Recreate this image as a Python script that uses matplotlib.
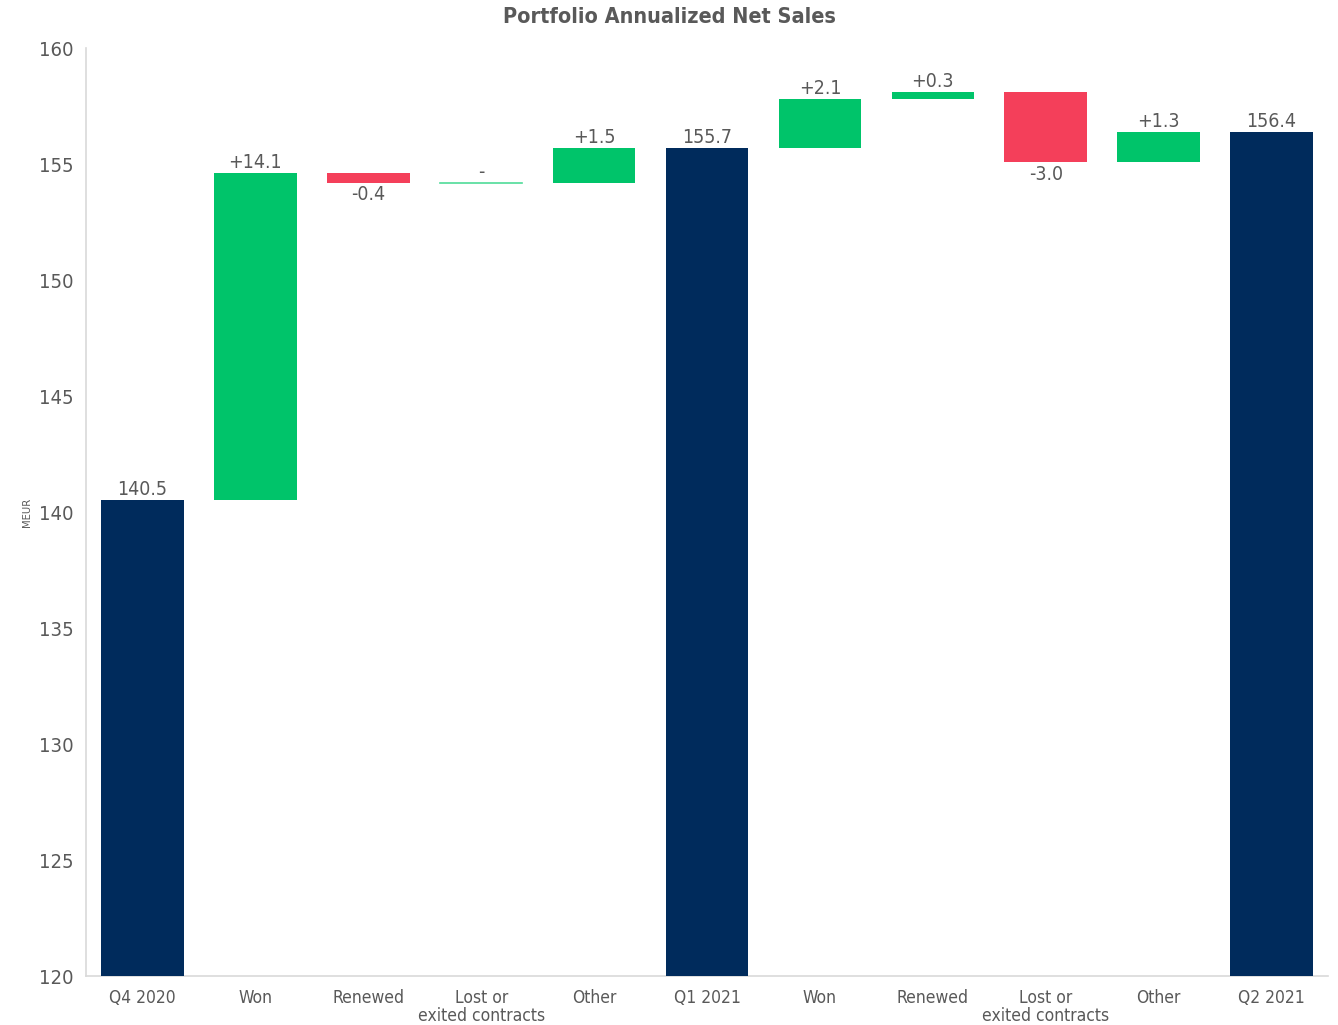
import numpy as np
import matplotlib
matplotlib.use("Agg")
import matplotlib.pyplot as plt

# data
categories = ["Q4 2020", "Won", "Renewed", "Lost or\nexited contracts", "Other",
              "Q1 2021", "Won", "Renewed", "Lost or\nexited contracts", "Other",
              "Q2 2021"]
values = [140.5, 14.1, -0.4, 0.0, 1.5, 155.7, 2.1, 0.3, -3.0, 1.3, 156.4]
is_total = [True, False, False, False, False, True, False, False, False, False, True]

NAVY = "#002B5C"
GREEN = "#00C46A"
RED = "#F43F5A"
TEXT = "#595959"

plt.rcParams['font.family'] = ['DejaVu Sans']
plt.rcParams['font.stretch'] = 'condensed'

fig = plt.figure(figsize=(13.38, 10.25), dpi=100)
ax = fig.add_axes([0.0643, 0.0478, 0.9282, 0.9052])

x = np.arange(len(categories))
width = 0.73
running = 0.0
for i, (v, tot) in enumerate(zip(values, is_total)):
    if tot:
        running = v
        ax.bar(i, v - 120, width, bottom=120, color=NAVY, zorder=3)
        ax.text(i, v + 0.05, f"{v:.1f}", ha='center', va='bottom', fontsize=14, color=TEXT)
    else:
        start = running
        running = start + v
        if v == 0:
            ax.plot([i - width / 2, i + width / 2], [start, start], color="#4FDB98",
                    lw=1.2, zorder=3)
            ax.text(i, start + 0.05, "-", ha='center', va='bottom', fontsize=14, color=TEXT)
            continue
        color = GREEN if v > 0 else RED
        ax.bar(i, v, width, bottom=start, color=color, zorder=3)
        if v > 0:
            ax.text(i, running + 0.05, f"+{v:.1f}", ha='center', va='bottom',
                    fontsize=14, color=TEXT)
        else:
            ax.text(i, running - 0.12, f"{v:.1f}", ha='center', va='top',
                    fontsize=14, color=TEXT)

ax.set_xlim(-0.5, len(categories) - 0.5)
ax.set_ylim(120, 160)
ax.set_yticks(np.arange(120, 161, 5))
ax.set_xticks(x)
ax.set_xticklabels(categories, fontsize=12.5, color=TEXT, linespacing=1.05)
ax.tick_params(axis='both', length=0, colors=TEXT)
ax.tick_params(axis='y', labelsize=14.5, pad=9)
ax.tick_params(axis='x', pad=9)
for s in ['top', 'right']:
    ax.spines[s].set_visible(False)
for s in ['left', 'bottom']:
    ax.spines[s].set_color("#D9D9D9")
    ax.spines[s].set_linewidth(1.2)

fig.text(27 / 1338, 1 - 512 / 1025, "MEUR", rotation=90, fontsize=8, color=TEXT,
         ha='center', va='center')
fig.suptitle("Portfolio Annualized Net Sales", fontsize=15.5, fontweight='bold',
             color=TEXT, y=0.993, va='top')

fig.savefig("out.png", dpi=100)
